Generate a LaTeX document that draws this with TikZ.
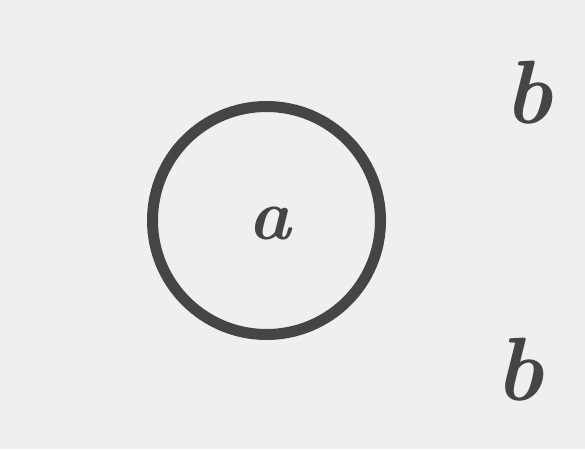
\documentclass[tikz,border=0pt]{standalone}
\usepackage{xcolor}
\usepackage{tikz}
\definecolor{paper}{HTML}{EFEFEF}
\definecolor{ink}{HTML}{454545}
\tikzset{
  ring/.style={circle, draw=ink, line width=11pt, minimum size=228pt, inner sep=0pt},
  letter/.style={text=ink, inner sep=0pt, font=\fontsize{72}{72}\selectfont\bfseries\itshape},
  bigletter/.style={letter, font=\fontsize{90}{90}\selectfont\bfseries\itshape}
}

\begin{document}
\begin{tikzpicture}[x=1pt, y=-1pt]
  \fill[paper] (0,0) rectangle (585,449);
  \useasboundingbox (0,0) rectangle (585,449);

  \node[ring] (circle) at (266.5, 220.5) {};
  \node[letter] (a) at (270, 224) {a};

  \node[bigletter] (topb) at (528, 93) {b};
  \node[bigletter] (bottomb) at (519, 370) {b};
\end{tikzpicture}
\end{document}
